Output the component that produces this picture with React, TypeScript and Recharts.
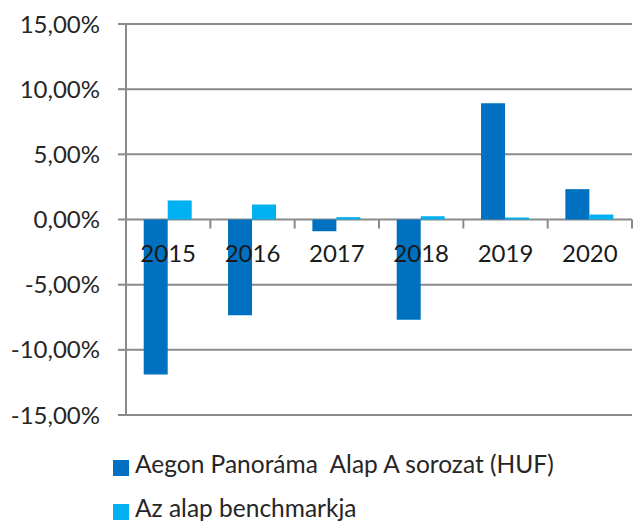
import React from 'react';
import { BarChart, Bar, XAxis, YAxis, CartesianGrid } from 'recharts';

// Évek és hozamok (%)
const years = ['2015', '2016', '2017', '2018', '2019', '2020'];
const fundReturns = [-11.9, -7.35, -0.9, -7.7, 8.92, 2.33];
const benchmarkReturns = [1.46, 1.15, 0.18, 0.25, 0.15, 0.38];
const yTicks = [-15, -10, -5, 0, 5, 10, 15];

const seriesNames = ['Aegon Panoráma  Alap A sorozat (HUF)', 'Az alap benchmarkja'];
const COLORS = ['#0070C0', '#00B0F0'];

const CHART_W = 641;
const CHART_H = 440;
const X_AXIS_H = 1;
const MARGIN = { top: 24, right: 9, left: 0, bottom: 24 };
const Y_AXIS_W = 126;
const PLOT_H = CHART_H - MARGIN.top - MARGIN.bottom - X_AXIS_H;
const PLOT_W = CHART_W - MARGIN.left - MARGIN.right - Y_AXIS_W;
const BAND = PLOT_W / years.length;

const FONT = 'Lato, "Open Sans", sans-serif';
const GRID = '#8a8a8a';

const data = years.map((year, i) => ({
  year,
  fund: fundReturns[i],
  benchmark: benchmarkReturns[i],
}));

const fmtPct = (v: number) => `${v.toFixed(2).replace('.', ',')}%`;

// kategória felirat a 0-s vonal alatt (a tengely a 0-nál van)
const renderCategoryTick = (props: any) => {
  const { x, y, payload } = props;
  const zeroY = y - PLOT_H / 2;
  return (
    <g>
      <line x1={x + BAND / 2} x2={x + BAND / 2} y1={zeroY} y2={zeroY + 9} stroke={GRID} strokeWidth={2} />
      <text
        x={x}
        y={zeroY + 42}
        textAnchor="middle"
        fontFamily={FONT}
        fontSize={24}
        fill="#1a1a1a"
      >
        {payload.value}
      </text>
    </g>
  );
};

const App: React.FC = () => {
  return (
    <div style={{ position: 'absolute', left: 0, top: 0, width: CHART_W, height: 529, background: '#fff' }}>
      <BarChart
        width={CHART_W}
        height={CHART_H}
        data={data}
        margin={MARGIN}
        barCategoryGap="21%"
        barGap={0}
      >
        <CartesianGrid vertical={false} stroke={GRID} strokeWidth={2} />
        <YAxis
          width={Y_AXIS_W}
          domain={[-15, 15]}
          ticks={yTicks}
          tickFormatter={fmtPct}
          axisLine={{ stroke: GRID, strokeWidth: 2 }}
          tickLine={{ stroke: GRID, strokeWidth: 2 }}
          tickSize={8}
          tickMargin={18}
          tick={{ fontFamily: FONT, fontSize: 24, fill: '#262626' }}
          interval={0}
        />
        <Bar dataKey="fund" name={seriesNames[0]} fill={COLORS[0]} isAnimationActive={false} />
        <Bar dataKey="benchmark" name={seriesNames[1]} fill={COLORS[1]} isAnimationActive={false} />
        <XAxis
          dataKey="year"
          height={X_AXIS_H}
          axisLine={false}
          tickLine={false}
          tickSize={0}
          tickMargin={0}
          interval={0}
          tick={renderCategoryTick}
        />
      </BarChart>
      {seriesNames.map((name, i) => (
        <div
          key={name}
          style={{
            position: 'absolute',
            left: 113,
            top: 452 + i * 43.5,
            display: 'flex',
            alignItems: 'flex-start',
            fontFamily: FONT,
            fontSize: 24.5,
            lineHeight: '24px',
            color: '#262626',
            whiteSpace: 'pre',
          }}
        >
          <span style={{ width: 16, height: 16, background: COLORS[i], marginTop: 8, marginRight: 6 }} />
          <span>{name}</span>
        </div>
      ))}
    </div>
  );
};

export default App;
